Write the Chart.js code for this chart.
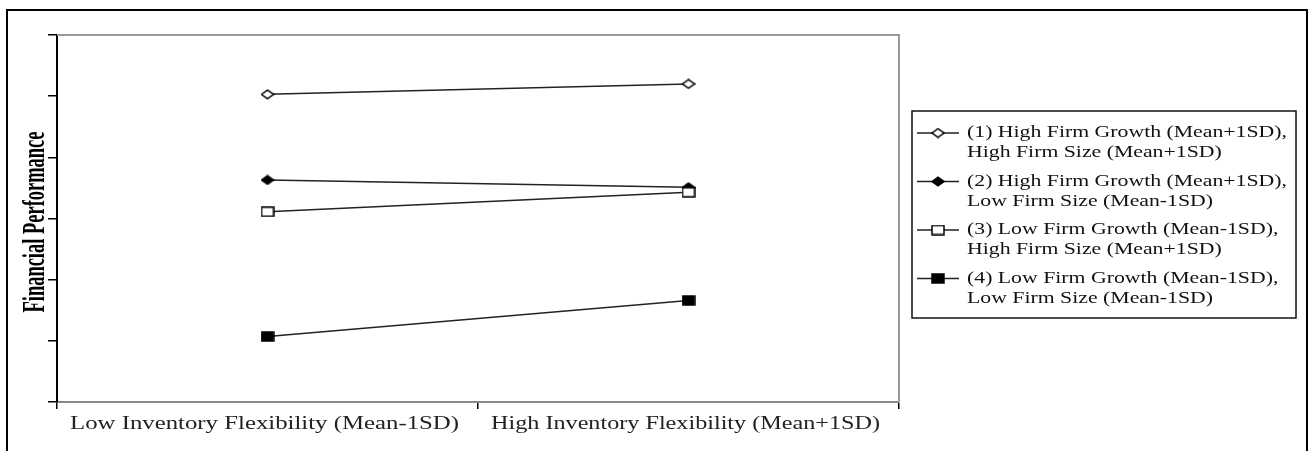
<!DOCTYPE html>
<html>
<head>
<meta charset="utf-8">
<title>Financial Performance</title>
<script src="https://cdn.jsdelivr.net/npm/chart.js@4.4.1/dist/chart.umd.min.js"></script>
<style>
  html, body { margin: 0; padding: 0; background: #fff; overflow: hidden; }
  .chart-wrapper { position: relative; width: 1313px; height: 451px; }
  .frame {
    position: absolute; left: 6px; top: 9px; width: 1298px; height: 500px;
    border: 2px solid #000; pointer-events: none;
  }
</style>
</head>
<body>
<div class="chart-wrapper">
  <canvas id="myChart"></canvas>
  <div class="frame"></div>
</div>

<script>
  // data (y axis has no labels, 0..6 unit steps)
  const categories = ['Low Inventory Flexibility (Mean-1SD)', 'High Inventory Flexibility (Mean+1SD)'];
  const yTicks = [0, 1, 2, 3, 4, 5, 6];
  const yTitle = 'Financial Performance';

  const legendLines = [
    ['(1) High Firm Growth (Mean+1SD),', 'High Firm Size (Mean+1SD)'],
    ['(2) High Firm Growth (Mean+1SD),', 'Low Firm Size (Mean-1SD)'],
    ['(3) Low Firm Growth (Mean-1SD),', 'High Firm Size (Mean+1SD)'],
    ['(4) Low Firm Growth (Mean-1SD),', 'Low Firm Size (Mean-1SD)']
  ];
  const highGrowthHighSize = [5.03, 5.20];
  const highGrowthLowSize = [3.63, 3.51];
  const lowGrowthHighSize = [3.11, 3.43];
  const lowGrowthLowSize = [1.07, 1.66];

  // little marker images
  function makeMarker(kind, filled) {
    const c = document.createElement('canvas');
    const g = c.getContext('2d');
    if (kind === 'diamond') {
      c.width = 14; c.height = 11;
      g.beginPath();
      g.moveTo(1, 5.5); g.lineTo(7, 1.2); g.lineTo(13, 5.5); g.lineTo(7, 9.8); g.closePath();
    } else {
      c.width = 14; c.height = 11;
      g.beginPath();
      g.rect(1, 1, 12, 9);
    }
    g.fillStyle = filled ? '#000' : '#fff';
    g.fill();
    g.lineWidth = 1.5;
    g.strokeStyle = '#000';
    g.stroke();
    return c;
  }

  const markers = [
    makeMarker('diamond', false),
    makeMarker('diamond', true),
    makeMarker('rect', false),
    makeMarker('rect', true)
  ];

  // text in the picture is stretched sideways, so scale it to fit a width
  function wideText(ctx, text, x, y, width, align) {
    const w = ctx.measureText(text).width;
    const sx = width / w;
    ctx.save();
    ctx.translate(x, y);
    ctx.scale(sx, 1);
    ctx.textAlign = align;
    ctx.fillText(text, 0, 0);
    ctx.restore();
  }

  const plotFrame = {
    id: 'plotFrame',
    beforeDatasetsDraw(chart) {
      const a = chart.chartArea, ctx = chart.ctx;
      ctx.save();
      ctx.strokeStyle = '#999';
      ctx.lineWidth = 2;
      ctx.beginPath();
      ctx.moveTo(a.left, a.top);
      ctx.lineTo(a.right, a.top);
      ctx.lineTo(a.right, a.bottom);
      ctx.stroke();
      ctx.restore();
    }
  };

  const axisText = {
    id: 'axisText',
    afterDraw(chart) {
      const ctx = chart.ctx;
      ctx.save();
      ctx.font = 'bold 31px "Liberation Serif"';
      ctx.fillStyle = '#000';
      ctx.textBaseline = 'middle';
      ctx.translate(35, 222);
      ctx.rotate(-Math.PI / 2);
      wideText(ctx, yTitle, 0, 1, 181, 'center');
      ctx.restore();

      // category labels under the x axis
      const xs = chart.scales.x;
      ctx.save();
      ctx.font = '18px "Liberation Serif"';
      ctx.fillStyle = '#222';
      ctx.textBaseline = 'middle';
      categories.forEach((c, i) => {
        wideText(ctx, c, xs.getPixelForValue(i) - 3, 424, 389, 'center');
      });
      ctx.restore();
    }
  };

  const boxLegend = {
    id: 'boxLegend',
    afterDraw(chart) {
      const ctx = chart.ctx;
      ctx.save();
      ctx.strokeStyle = '#111';
      ctx.lineWidth = 1.5;
      ctx.strokeRect(912, 111, 384, 207);
      ctx.font = '16px "Liberation Serif"';
      ctx.fillStyle = '#111';
      ctx.textBaseline = 'middle';
      const sx = 320 / ctx.measureText(legendLines[0][0]).width;
      chart.data.datasets.forEach((ds, i) => {
        const y = 133 + i * 48.5;
        ctx.strokeStyle = '#222';
        ctx.lineWidth = 1.5;
        ctx.beginPath();
        ctx.moveTo(917, y);
        ctx.lineTo(959, y);
        ctx.stroke();
        const m = markers[i];
        ctx.drawImage(m, 938 - m.width / 2, y - m.height / 2);
        legendLines[i].forEach((t, k) => {
          wideText(ctx, t, 967, y + k * 20, ctx.measureText(t).width * sx, 'left');
        });
      });
      ctx.restore();
    }
  };

  function series(label, data, i) {
    return {
      label: label,
      data: data,
      borderColor: '#222',
      backgroundColor: '#000',
      borderWidth: 1.5,
      pointStyle: markers[i],
      pointRadius: 6,
      tension: 0,
      order: i === 2 ? 1 : 2
    };
  }

  const ctx = document.getElementById('myChart');
  const myChart = new Chart(ctx, {
    type: 'line',
    data: {
      labels: categories,
      datasets: [
        series(legendLines[0].join(' '), highGrowthHighSize, 0),
        series(legendLines[1].join(' '), highGrowthLowSize, 1),
        series(legendLines[2].join(' '), lowGrowthHighSize, 2),
        series(legendLines[3].join(' '), lowGrowthLowSize, 3)
      ]
    },
    options: {
      responsive: true,
      maintainAspectRatio: false,
      animation: false,
      layout: { padding: { left: 0, top: 35, right: 414, bottom: 0 } },
      plugins: {
        legend: { display: false },
        tooltip: { enabled: false }
      },
      scales: {
        x: {
          offset: true,
          grid: {
            offset: true,
            drawOnChartArea: false,
            drawTicks: true,
            tickLength: 7,
            color: '#000',
            lineWidth: 1.5
          },
          border: { display: true, color: '#888', width: 2 },
          ticks: { display: false },
          afterFit(scale) { scale.height = 49; }
        },
        y: {
          min: yTicks[0],
          max: yTicks[yTicks.length - 1],
          afterBuildTicks(scale) { scale.ticks = yTicks.map(v => ({ value: v })); },
          grid: {
            drawOnChartArea: false,
            drawTicks: true,
            tickLength: 9,
            color: '#000',
            lineWidth: 1.5
          },
          border: { display: true, color: '#000', width: 2 },
          ticks: { display: false },
          afterFit(scale) { scale.width = 57; }
        }
      }
    },
    plugins: [plotFrame, axisText, boxLegend]
  });
</script>
</body>
</html>
